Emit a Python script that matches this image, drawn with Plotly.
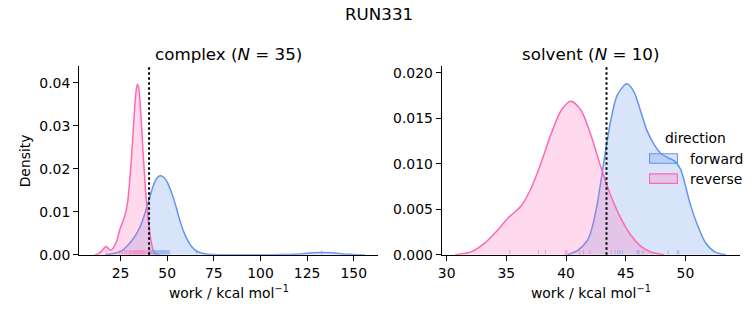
import plotly.graph_objects as go

# ---------------- data ----------------
complex_rev_x = [11, 13, 15, 16.3, 17.2, 18.2, 19.4, 20.6, 21.8, 23.1, 24.7, 26.2, 27.4, 28.8, 29.5,
                 30.1, 30.9, 31.8, 32.7, 33.6, 34.1, 34.7, 35.4, 36.2, 37.0, 37.7, 38.6, 39.8, 41.1,
                 42.5, 43.9, 45.5]
complex_rev_d = [0, 0.0002, 0.0009, 0.0016, 0.0019, 0.0016, 0.0011, 0.0013, 0.0021, 0.0034, 0.0060,
                 0.0077, 0.0092, 0.0122, 0.0152, 0.0183, 0.0228, 0.0288, 0.0349, 0.0389, 0.0397,
                 0.0390, 0.0360, 0.0305, 0.0245, 0.0198, 0.0140, 0.0084, 0.0039, 0.0011, 0.0002, 0]

complex_fwd_x = [17, 20, 23, 25.6, 28, 30.9, 33, 35.4, 37.6, 39.8, 41.2, 42.5, 44, 45.3, 46.6, 48,
                 49.3, 50.5, 52.3, 54.1, 55.8, 57.6, 59.4, 61.2, 63, 64.7, 67, 69.5, 72, 76, 85,
                 100, 112, 118, 123, 128, 133, 138, 143, 148, 152, 156]
complex_fwd_d = [0, 0.0002, 0.0005, 0.0009, 0.0018, 0.0032, 0.0045, 0.0064, 0.0090, 0.0122, 0.0142,
                 0.0160, 0.0175, 0.0182, 0.0184, 0.0181, 0.0175, 0.0165, 0.0145, 0.0122, 0.0095,
                 0.0069, 0.0048, 0.0032, 0.0020, 0.0012, 0.0006, 0.0003, 0.0001, 0.00003, 0, 0,
                 0.00005, 0.0001, 0.00025, 0.00045, 0.00055, 0.00045, 0.00025, 0.0001, 0.00003, 0]

solvent_rev_x = [30.7, 32.1, 33.2, 34.3, 35.1, 36.25, 37.1, 37.9, 38.75, 39.6, 40.4, 41.25, 42.1,
                 42.9, 43.75, 44.6, 45.4, 46.25, 47.1, 48.2]
solvent_rev_d = [0, 0.00035, 0.0013, 0.00275, 0.0040, 0.0054, 0.0074, 0.0101, 0.0133, 0.0159,
                 0.0169, 0.0159, 0.0131, 0.0097, 0.0065, 0.0040, 0.0022, 0.00096, 0.0003, 0]

solvent_fwd_x = [40.1, 41.0, 41.8, 42.1, 42.6, 43.2, 43.75, 44.3, 45.1, 45.7, 46.25, 46.8, 47.35,
                 47.9, 48.5, 49.1, 49.6, 50.0, 50.4, 51.0, 51.7, 52.5, 53.4]
solvent_fwd_d = [0, 0.0005, 0.0016, 0.0026, 0.0055, 0.0105, 0.0148, 0.0176, 0.0188, 0.0179, 0.0158,
                 0.0136, 0.0122, 0.0112, 0.0107, 0.0103, 0.0094, 0.0076, 0.0056, 0.0033, 0.0013,
                 0.0003, 0]

# rug samples
complex_rev_rug = [17.3, 24.5, 26.0, 27.2, 28.0, 29.0, 29.8, 30.2, 30.5, 31.0, 31.6, 32.0, 32.4,
                   32.8, 33.1, 33.4, 33.7, 34.0, 34.2, 34.5, 34.8, 35.1, 35.4, 35.7, 36.0, 36.4,
                   36.8, 37.2, 37.6, 38.1, 38.6, 39.2, 39.8, 40.4, 41.0]
complex_fwd_rug = [40.9, 41.5, 42.0, 42.4, 42.8, 43.1, 43.4, 43.7, 44.0, 44.3, 44.6, 44.9, 45.0,
                   45.2, 45.5, 45.8, 46.0, 46.1, 46.4, 46.7, 47.0, 47.3, 47.6, 47.9, 48.2, 48.5,
                   48.8, 49.1, 49.5, 49.9, 50.3, 50.8, 51.3, 65.6, 132.8]
solvent_rev_rug = [35.28, 37.69, 38.28, 39.94, 40.0, 40.08, 41.12, 41.47, 42.0, 43.79]
solvent_fwd_rug = [44.11, 44.33, 44.5, 44.72, 45.97, 46.11, 46.44, 48.56, 49.31, 49.44]

complex_cutoff = 40.3
solvent_cutoff = 43.39

complex_xticks = [25, 50, 75, 100, 125, 150]
complex_yticks = [0.00, 0.01, 0.02, 0.03, 0.04]
solvent_xticks = [30, 35, 40, 45, 50]
solvent_yticks = [0.000, 0.005, 0.010, 0.015, 0.020]

complex_xrange = [2.8, 163.0]
complex_yrange = [0, 0.0439]
solvent_xrange = [29.58, 54.58]
solvent_yrange = [0, 0.02075]

suptitle = "RUN331"
complex_title = "complex (<i>N</i> = 35)"
solvent_title = "solvent (<i>N</i> = 10)"
xlabel = "work / kcal mol<sup>−1</sup>"
ylabel = "Density"
legend_title = "direction"
legend_labels = ["forward", "reverse"]

# ---------------- styling ----------------
W, H = 753, 325
FONT = "DejaVu Sans"
BLUE = "#6495ED"
PINK = "#FF69B4"
BLUE_FILL = "rgba(100,149,237,0.25)"
PINK_FILL = "rgba(255,105,180,0.25)"
TICK = 13.9
TITLE = 16.7


def px(x):
    return x / W


def py(y):
    return 1 - y / H


fig = go.Figure()


def add_kde(x, d, line, fill, xa, ya):
    fig.add_trace(go.Scatter(x=x, y=d, mode="lines", line=dict(color=line, width=1.5, shape="spline", smoothing=0.8),
                             fill="tozeroy", fillcolor=fill, xaxis=xa, yaxis=ya, showlegend=False,
                             hoverinfo="skip"))


def add_rug(vals, color, yr, xa, ya):
    h = 0.025 * yr[1]
    xs, ys = [], []
    for v in vals:
        xs += [v, v, None]
        ys += [0, h, None]
    fig.add_trace(go.Scatter(x=xs, y=ys, mode="lines", line=dict(color=color, width=1), opacity=0.55,
                             xaxis=xa, yaxis=ya, showlegend=False, hoverinfo="skip"))


add_kde(complex_fwd_x, complex_fwd_d, BLUE, BLUE_FILL, "x", "y")
add_kde(complex_rev_x, complex_rev_d, PINK, PINK_FILL, "x", "y")
add_rug(complex_fwd_rug, BLUE, complex_yrange, "x", "y")
add_rug(complex_rev_rug, PINK, complex_yrange, "x", "y")

add_kde(solvent_fwd_x, solvent_fwd_d, BLUE, BLUE_FILL, "x2", "y2")
add_kde(solvent_rev_x, solvent_rev_d, PINK, PINK_FILL, "x2", "y2")
add_rug(solvent_fwd_rug, BLUE, solvent_yrange, "x2", "y2")
add_rug(solvent_rev_rug, PINK, solvent_yrange, "x2", "y2")

axis_common = dict(showline=True, linecolor="black", linewidth=1.1, ticks="outside", ticklen=5,
                   tickwidth=1.1, tickcolor="black", showgrid=False, zeroline=False,
                   tickfont=dict(family=FONT, size=TICK, color="black"))

ydom = [py(261), py(67)]
fig.update_layout(
    width=W, height=H, autosize=False, margin=dict(l=0, r=0, t=0, b=0),
    paper_bgcolor="white", plot_bgcolor="white",
    font=dict(family=FONT, color="black"),
    xaxis=dict(domain=[px(75.5), px(376)], range=complex_xrange, tickvals=complex_xticks,
               ticktext=[str(t) for t in complex_xticks], anchor="y", **axis_common),
    yaxis=dict(domain=ydom, range=complex_yrange, tickvals=complex_yticks,
               ticktext=[f"{t:.2f}" for t in complex_yticks], anchor="x", **axis_common),
    xaxis2=dict(domain=[px(440), px(740)], range=solvent_xrange, tickvals=solvent_xticks,
                ticktext=[str(t) for t in solvent_xticks], anchor="y2", **axis_common),
    yaxis2=dict(domain=ydom, range=solvent_yrange, tickvals=solvent_yticks,
                ticktext=[f"{t:.3f}" for t in solvent_yticks], anchor="x2", **axis_common),
)

# cutoff lines
for xv, xr, yr in [(complex_cutoff, "x", "y domain"), (solvent_cutoff, "x2", "y2 domain")]:
    fig.add_shape(type="line", x0=xv, x1=xv, y0=0, y1=1, xref=xr, yref=yr,
                  line=dict(color="black", width=2, dash="2.5px,2.5px"), layer="above")

# titles and labels
ann = [
    dict(text=suptitle, x=px(376.5), y=py(13), size=TITLE),
    dict(text=complex_title, x=px(225.75), y=py(54), size=TITLE),
    dict(text=solvent_title, x=px(590), y=py(54), size=TITLE),
    dict(text=xlabel, x=px(225.75), y=py(299), size=TICK),
    dict(text=xlabel, x=px(590), y=py(299), size=TICK),
]
for a in ann:
    fig.add_annotation(text=a["text"], x=a["x"], y=a["y"], xref="paper", yref="paper",
                       showarrow=False, xanchor="center", yanchor="middle",
                       font=dict(family=FONT, size=a["size"], color="black"))
fig.add_annotation(text=ylabel, x=px(22), y=py(164), xref="paper", yref="paper", showarrow=False,
                   textangle=-90, xanchor="center", yanchor="middle",
                   font=dict(family=FONT, size=TICK, color="black"))

# legend (manual, matplotlib style, no frame)
fig.add_annotation(text=legend_title, x=px(695), y=py(140.5), xref="paper", yref="paper",
                   showarrow=False, xanchor="center", yanchor="middle",
                   font=dict(family=FONT, size=TICK, color="black"))
for lab, col, fillc, cy in [(legend_labels[0], BLUE, BLUE_FILL, 162), (legend_labels[1], PINK, PINK_FILL, 182.7)]:
    fig.add_shape(type="rect", xref="paper", yref="paper", x0=px(649), x1=px(677),
                  y0=py(cy + 4.9), y1=py(cy - 4.9), line=dict(color=col, width=1.1),
                  fillcolor=fillc, layer="above")
    fig.add_annotation(text=lab, x=px(688), y=py(cy), xref="paper", yref="paper", showarrow=False,
                       xanchor="left", yanchor="middle", font=dict(family=FONT, size=TICK, color="black"))

css_fix = (
    "var s=document.createElement('style');"
    "s.textContent='html,body{margin:0!important;padding:0!important;width:753px;height:325px;"
    "overflow:hidden!important;} .plotly-graph-div{display:block;}';"
    "document.head.appendChild(s);"
)
fig.write_html("out.html",
               config={"responsive": False, "displayModeBar": False},
               post_script=css_fix)
